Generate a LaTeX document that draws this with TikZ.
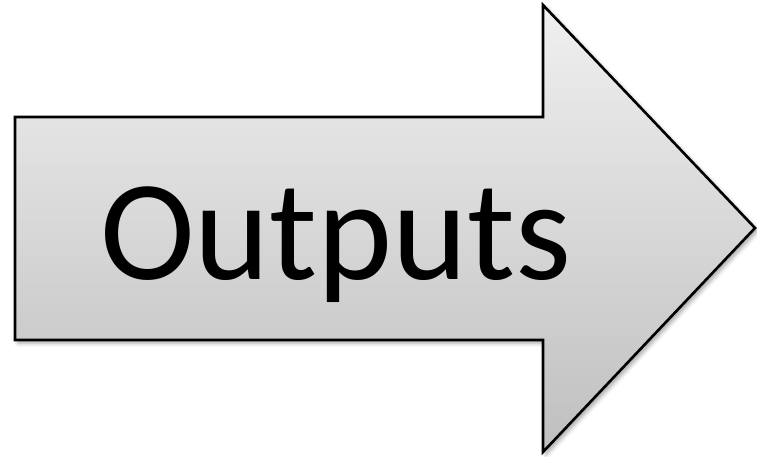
\documentclass[tikz,border=0pt]{standalone}
\usepackage{fontspec}
\setmainfont{Carlito}
\usetikzlibrary{shadows.blur}
\begin{document}
\begin{tikzpicture}[x=1pt,y=-1pt,
  arrowshape/.style={draw=black,line width=2.6pt,line join=miter,
    top color=gray!12,bottom color=gray!50,
    blur shadow={shadow xshift=3pt,shadow yshift=-3pt,shadow blur radius=4pt,shadow opacity=35}},
  label/.style={font=\fontsize{143}{143}\selectfont,inner sep=0pt,anchor=base}]
\useasboundingbox (0,0) rectangle (757,457);
\draw[arrowshape] (15,117) -- (543,117) -- (543,5) -- (755,228) -- (543,452) -- (543,340) -- (15,340) -- cycle;
\node[label] (t) at (336,279) {Outputs};
\end{tikzpicture}
\end{document}
